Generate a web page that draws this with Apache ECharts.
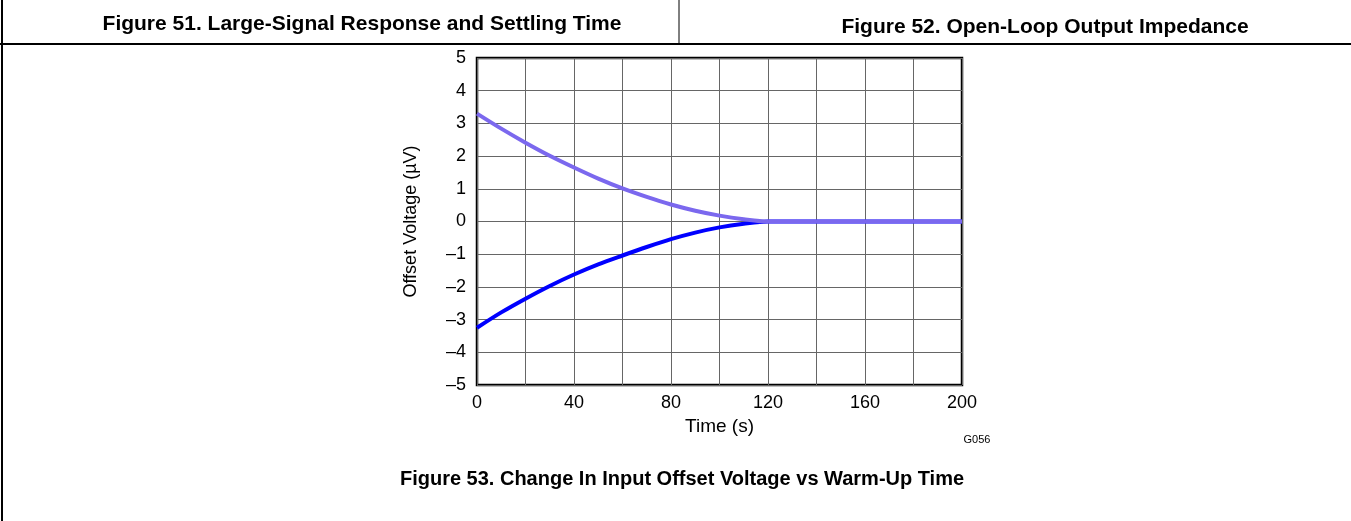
<!DOCTYPE html>
<html>
<head>
<meta charset="utf-8">
<script src="https://cdn.jsdelivr.net/npm/echarts@6/dist/echarts.min.js"></script>
<style>
  html, body { margin: 0; padding: 0; background: #fff; }
  #chart { width: 1351px; height: 521px; }
</style>
</head>
<body>
<div id="chart"></div>
<script>
// warm-up time (s)
const times = [0, 10, 20, 30, 40, 50, 60, 70, 80, 90, 100, 110, 120, 200];
// offset voltage drift (uV)
const upperOffset = [3.3, 2.84, 2.41, 2.01, 1.65, 1.31, 1.01, 0.75, 0.52, 0.33, 0.18, 0.07, 0, 0];
const lowerOffset = [-3.25, -2.78, -2.36, -1.97, -1.62, -1.31, -1.04, -0.78, -0.54, -0.34, -0.18, -0.07, 0, 0];
const xLabelValues = [0, 40, 80, 120, 160, 200];

const pairs = (ys) => times.map((t, i) => [t, ys[i]]);
const dash = (v) => String(v).replace('-', '\u2013');

const chart = echarts.init(document.getElementById('chart'), null, { renderer: 'canvas' });

const font = '"Liberation Sans", Arial, sans-serif';
const titleStyle = (size) => ({ fontFamily: font, fontSize: size, fontWeight: 'bold', color: '#000' });

const option = {
    animation: false,
    backgroundColor: '#fff',
    title: [
        { text: 'Figure 51. Large-Signal Response and Settling Time', left: 357, top: 9, textAlign: 'center', textStyle: titleStyle(21) },
        { text: 'Figure 52. Open-Loop Output Impedance', left: 1040, top: 12, textAlign: 'center', textStyle: titleStyle(21) },
        { text: 'Figure 53. Change In Input Offset Voltage vs Warm-Up Time', left: 677, top: 464, textAlign: 'center', textStyle: titleStyle(20) },
        { text: 'G056', left: 972, top: 429, textAlign: 'center', textStyle: { fontFamily: font, fontSize: 11, fontWeight: 'normal', color: '#000' } }
    ],
    graphic: [
        { type: 'line', shape: { x1: 2, y1: 0, x2: 2, y2: 521 }, style: { stroke: '#000', lineWidth: 2 } },
        { type: 'line', shape: { x1: 0, y1: 44, x2: 1351, y2: 44 }, style: { stroke: '#000', lineWidth: 2 } },
        { type: 'line', shape: { x1: 679, y1: 0, x2: 679, y2: 44 }, style: { stroke: '#000', lineWidth: 1 } }
    ],
    grid: {
        left: 477,
        top: 58,
        width: 485,
        height: 327,
        show: true,
        borderColor: '#000',
        borderWidth: 2.5,
        containLabel: false
    },
    xAxis: {
        type: 'value',
        min: 0,
        max: 200,
        interval: 20,
        name: 'Time (s)',
        nameLocation: 'middle',
        nameGap: 32,
        nameTextStyle: { fontFamily: font, fontSize: 19, color: '#000' },
        axisLine: { show: false },
        axisTick: { show: false },
        axisLabel: {
            fontFamily: font,
            fontSize: 18,
            color: '#000',
            margin: 9,
            formatter: (v) => (xLabelValues.includes(v) ? String(v) : '')
        },
        splitLine: { show: true, lineStyle: { color: '#666', width: 1 } }
    },
    yAxis: {
        type: 'value',
        min: -5,
        max: 5,
        interval: 1,
        name: 'Offset Voltage (\u00b5V)',
        nameLocation: 'middle',
        nameGap: 57,
        nameTextStyle: { fontFamily: font, fontSize: 18, color: '#000' },
        axisLine: { show: false },
        axisTick: { show: false },
        axisLabel: {
            fontFamily: font,
            fontSize: 18,
            color: '#000',
            margin: 11,
            formatter: dash
        },
        splitLine: { show: true, lineStyle: { color: '#666', width: 1 } }
    },
    series: [
        {
            name: 'Lower',
            type: 'line',
            data: pairs(lowerOffset),
            smooth: 0.3,
            showSymbol: false,
            lineStyle: { color: '#0000ff', width: 4 }
        },
        {
            name: 'Upper',
            type: 'line',
            data: pairs(upperOffset),
            smooth: 0.3,
            showSymbol: false,
            lineStyle: { color: '#7b68ee', width: 4 }
        }
    ]
};

chart.setOption(option);
</script>
</body>
</html>
